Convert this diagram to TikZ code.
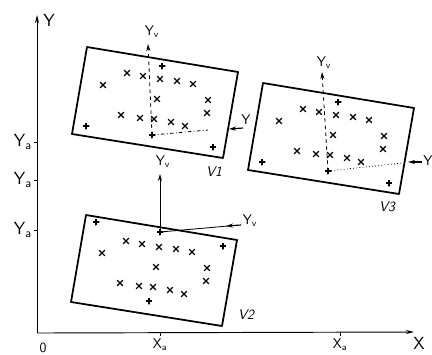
\documentclass[tikz,border=0pt]{standalone}
\usetikzlibrary{arrows.meta,shapes.misc}

\begin{document}
\begin{tikzpicture}[
    x=0.03cm, y=-0.03cm,
    frame/.style={line width=1.5pt, line join=round},
    axis/.style={-{Stealth[length=7pt,width=3.5pt]}, line width=0.8pt},
    localaxis/.style={line width=0.7pt},
    tip/.style={-{Stealth[length=6pt,width=3.5pt]}, line width=1pt},
    crossmark/.style={cross out, draw, line width=1.1pt, minimum size=0.13cm, inner sep=0pt},
    plusmark/.style={circle, inner sep=0pt, minimum size=0.21cm,
        path picture={\draw[line width=1.1pt] (path picture bounding box.north) -- (path picture bounding box.south)
            (path picture bounding box.west) -- (path picture bounding box.east);}},
    bigtxt/.style={font=\sffamily\fontsize{15}{15}\selectfont, inner sep=0pt},
    midtxt/.style={font=\sffamily\fontsize{12}{12}\selectfont, inner sep=0pt},
    vtxt/.style={font=\sffamily\itshape\fontsize{12}{12}\selectfont, inner sep=0pt}
]
\useasboundingbox (0,0) rectangle (432,354);

% Axes
\coordinate (o) at (37,333);
\coordinate (yend) at (37,15);
\coordinate (xend) at (414,332);
\draw[axis] (o) -- (yend);
\draw[axis] (o) -- (xend);
\node[bigtxt] (ylbl) at (49,20) {Y};
\node[bigtxt] (xlbl) at (419,343) {X};
\node[midtxt] (zero) at (43,348) {0};

% Ticks
\foreach \ty [count=\i] in {142,180,230} {
    \coordinate (ya\i) at (37,\ty);
    \draw[line width=0.7pt] (ya\i) -- ++(-3,0);
    \node[bigtxt, anchor=east] (yalbl\i) at (32,\ty) {Y\textsubscript{a}};
}
\foreach \tx [count=\i] in {160,340} {
    \coordinate (xa\i) at (\tx,332);
    \draw[line width=0.7pt] (xa\i) -- ++(0,4);
    \node[midtxt, anchor=north] (xalbl\i) at (\tx,338) {X\textsubscript{a}};
}

% Frames with crosses
\foreach \v/\dx/\dy in {1/0/0, 2/-1/168, 3/176/36} {
    \begin{scope}[shift={(\dx,\dy)}]
        \draw[frame] (87,47) -- (238,72) -- (223,158) -- (72,134) -- cycle;
        \foreach \cx/\cy [count=\i] in {127/73, 143/76, 160/79, 177/81, 193/84, 103/85, 157/99,
            208/100, 207/113, 121/115, 140/118, 154/119, 171/122, 185/126}
            \node[crossmark] (x\v-\i) at (\cx,\cy) {};
    \end{scope}
}

% Plus marks
\foreach \px/\py [count=\i] in {162/66, 86/126, 213/147}
    \node[plusmark] (p1-\i) at (\px,\py) {};
\foreach \px/\py [count=\i] in {338/102, 262/162, 389/183}
    \node[plusmark] (p3-\i) at (\px,\py) {};
\foreach \px/\py [count=\i] in {96/222, 223/246, 149/301}
    \node[plusmark] (p2-\i) at (\px,\py) {};
\node[plusmark] (o1) at (152,135) {};
\node[plusmark] (o2) at (160,232) {};
\node[plusmark] (o3) at (328,171) {};

% Local axes V1
\coordinate (v1top) at (148,44);
\coordinate (v1right) at (208,130);
\coordinate (v1s) at (243,128);
\coordinate (v1e) at (229,129);
\draw[localaxis, dashed, -{Stealth[length=6pt,width=3.5pt]}] (o1.center) -- (v1top);
\draw[localaxis, dash dot] (o1.center) -- (v1right);
\draw[tip] (v1s) -- (v1e);
\node[midtxt] (v1ylbl) at (152,32) {Y\textsubscript{v}};
\node[midtxt] (v1xlbl) at (246,120) {Y};
\node[vtxt] (lblV1) at (214,172) {V1};

% Local axes V2
\coordinate (v2top) at (160,174);
\coordinate (v2right) at (228,226);
\coordinate (v2s) at (241,225);
\coordinate (v2e) at (226,226);
\draw[localaxis, -{Stealth[length=6pt,width=3.5pt]}] (o2.center) -- (v2top);
\draw[localaxis] (o2.center) -- (v2right);
\draw[tip] (v2s) -- (v2e);
\node[midtxt] (v2ylbl) at (163,162) {Y\textsubscript{v}};
\node[midtxt] (v2xlbl) at (250,221) {Y\textsubscript{v}};
\node[vtxt] (lblV2) at (246,315) {V2};

% Local axes V3
\coordinate (v3top) at (322,72);
\coordinate (v3right) at (403,163);
\coordinate (v3s) at (422,162);
\coordinate (v3e) at (408,162);
\draw[localaxis, dashed, -{Stealth[length=6pt,width=3.5pt]}] (o3.center) -- (v3top);
\draw[localaxis, dotted] (o3.center) -- (v3right);
\draw[tip] (v3s) -- (v3e);
\node[midtxt] (v3ylbl) at (324,63) {Y\textsubscript{v}};
\node[midtxt] (v3xlbl) at (428,161) {Y};
\node[vtxt] (lblV3) at (387,207) {V3};

\end{tikzpicture}
\end{document}
